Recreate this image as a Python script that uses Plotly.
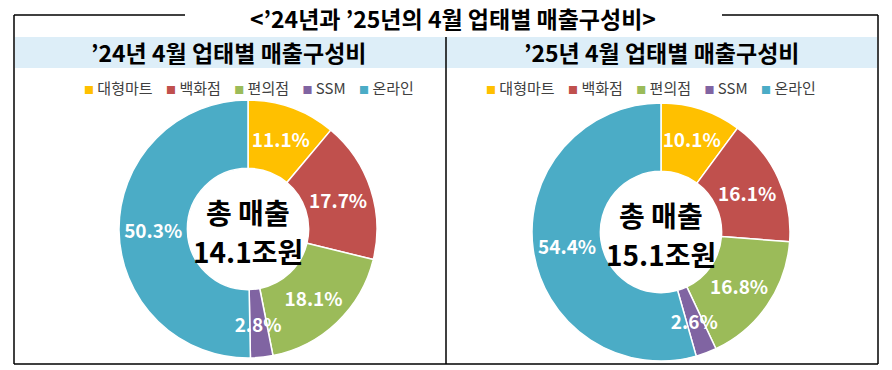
import math
import plotly.graph_objects as go

# ---- data ----
categories = ["대형마트", "백화점", "편의점", "SSM", "온라인"]
share_2024 = [11.1, 17.7, 18.1, 2.8, 50.3]
share_2025 = [10.1, 16.1, 16.8, 2.6, 54.4]
total_sales = ["14.1", "15.1"]  # 조원
main_title = "<’24년과 ’25년의 4월 업태별 매출구성비>"
sub_titles = ["’24년 4월 업태별 매출구성비", "’25년 4월 업태별 매출구성비"]

colors = ["#FFC000", "#C0504D", "#9BBB59", "#8064A2", "#4BACC6"]

W, H = 892, 370
FONT = "Noto Sans CJK KR"
HOLE = 0.47
R = 129                      # donut radius in px
centers = [(248, 229), (661, 232)]
SMALL = 5.0                  # slices below this share get their label centred on the ring


def px(x):
    return x / W


def py(y):
    return 1 - y / H


def domain(cx, cy, r):
    return dict(x=[px(cx - r), px(cx + r)], y=[py(cy + r), py(cy - r)])


fig = go.Figure()

for i, vals in enumerate([share_2024, share_2025]):
    cx, cy = centers[i]
    total = sum(vals)
    main_text = ["" if v < SMALL else f"{v:.1f}%" for v in vals]
    fig.add_trace(go.Pie(
        labels=categories, values=vals, hole=HOLE, sort=False,
        direction="clockwise", rotation=0, domain=domain(cx, cy, R),
        marker=dict(colors=colors, line=dict(color="white", width=1.5)),
        text=main_text, texttemplate="%{text}", textposition="inside",
        insidetextorientation="horizontal",
        textfont=dict(family=FONT, size=19, color="white", weight="bold"),
        showlegend=False, hoverinfo="label+value",
    ))
    # transparent overlay pie: plotly puts a thin slice's label at (1 - rInscribed) of
    # its radius, so scale the overlay so that the label lands on the ring middle
    for v in vals:
        if v < SMALL:
            s = math.sin(math.pi * v / total)
            r_ins = s / (1 + s)
            r2 = R * (1 + HOLE) / 2 / (1 - r_ins)
            fig.add_trace(go.Pie(
                labels=categories, values=vals, sort=False,
                direction="clockwise", rotation=0, domain=domain(cx, cy, r2),
                marker=dict(colors=["rgba(0,0,0,0)"] * len(vals), line=dict(width=0)),
                text=[f"{x:.1f}%" if x == v else "" for x in vals],
                texttemplate="%{text}", textposition="inside",
                insidetextorientation="horizontal",
                textfont=dict(family=FONT, size=19, color="white", weight="bold"),
                showlegend=False, hoverinfo="skip",
            ))

fig.update_layout(
    width=W, height=H,
    margin=dict(l=0, r=0, t=0, b=0),
    paper_bgcolor="white",
    plot_bgcolor="white",
    uniformtext=dict(minsize=19, mode="show"),
    font=dict(family=FONT),
)

shapes = []
line = dict(color="black", width=1.5)
shapes.append(dict(type="rect", xref="paper", yref="paper",
                   x0=px(15), x1=px(877), y0=py(68), y1=py(37),
                   fillcolor="#DDEEF8", line=dict(width=0), layer="below"))
for (x0, y0, x1, y1) in [(14, 15, 185, 15), (722, 15, 878, 15),
                         (14, 15, 14, 364), (878, 15, 878, 364),
                         (14, 364, 878, 364), (446, 37, 446, 364)]:
    shapes.append(dict(type="line", xref="paper", yref="paper",
                       x0=px(x0), y0=py(y0), x1=px(x1), y1=py(y1), line=line))
fig.update_layout(shapes=shapes)


def text_ann(x, y, text, size, color="black", bold=True):
    return dict(x=px(x), y=py(y), xref="paper", yref="paper", text=text,
                xanchor="center", yanchor="middle", showarrow=False,
                font=dict(family=FONT, size=size, color=color,
                          weight="bold" if bold else "normal"))


ann = [text_ann(453, 18, main_title, 23)]
sub_x = [228, 661]
for i, t in enumerate(sub_titles):
    ann.append(text_ann(sub_x[i], 52, t, 23))

sep = "\u00a0" * 4
legend_text = sep.join(
    f"<span style='color:{c};font-size:10px'>■</span>\u00a0{lab}" for lab, c in zip(categories, colors)
)
for lx in [249, 651]:
    ann.append(text_ann(lx, 87, legend_text, 15, color="#404040", bold=False))

for i, (cx, cy) in enumerate(centers):
    ann.append(text_ann(cx, cy - 17, "총\u00a0매출", 28))
    ann.append(text_ann(cx, cy + 22, f"{total_sales[i]}조원", 28))

fig.update_layout(annotations=ann)

fig.write_html("out.html", config={"displayModeBar": False},
               post_script="document.body.style.margin='0px';")
